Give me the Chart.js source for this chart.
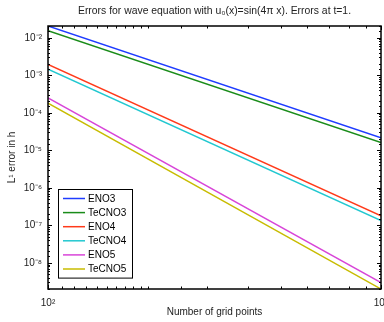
<!DOCTYPE html>
<html>
<head>
    <title>Errors for wave equation</title>
    <script src="https://cdn.jsdelivr.net/npm/chart.js"></script>
    <style>
        html, body {
            margin: 0;
            padding: 0;
            background: #fff;
        }
        .chart-container {
            width: 384px;
            height: 322px;
        }
    </style>
</head>
<body>
    <div class="chart-container">
        <canvas id="errChart"></canvas>
    </div>

    <script>
        // data (straight lines, endpoints only)
        const gridPoints = [100, 1000];
        const labels = ['ENO3', 'TeCNO3', 'ENO4', 'TeCNO4', 'ENO5', 'TeCNO5'];
        const eno3   = [2.06e-2, 2.16e-5];
        const tecno3 = [1.54e-2, 1.62e-5];
        const eno4   = [1.94e-3, 1.78e-7];
        const tecno4 = [1.46e-3, 1.34e-7];
        const eno5   = [2.50e-4, 2.95e-9];
        const tecno5 = [1.80e-4, 2.00e-9];
        const seriesValues = [eno3, tecno3, eno4, tecno4, eno5, tecno5];
        const colors = ['#1f3cff', '#1a8c1a', '#ff3a1a', '#22c8d0', '#d845d8', '#c8bc00'];
        const titleText = 'Errors for wave equation with u₀(x)=sin(4π x). Errors at t=1.';

        const FONT = '"Liberation Sans", Arial, sans-serif';
        const sup = { '0': '⁰', '1': '¹', '2': '²', '3': '³', '4': '⁴', '5': '⁵',
                      '6': '⁶', '7': '⁷', '8': '⁸', '9': '⁹', '-': '⁻' };

        function isDecade(v) {
            const e = Math.log10(v);
            return Math.abs(e - Math.round(e)) < 1e-6;
        }
        function decadeLabel(v) {
            if (!isDecade(v)) return '';
            return '10' + String(Math.round(Math.log10(v))).split('').map(c => sup[c]).join('');
        }

        // title over the plot, frame with inward ticks, legend box
        const framePlugin = {
            id: 'frame',
            afterDraw(chart) {
                const c = chart.ctx;
                const a = chart.chartArea;
                const sx = chart.scales.x, sy = chart.scales.y;
                c.save();

                c.fillStyle = '#222';
                c.font = '10.4px ' + FONT;
                c.textAlign = 'center';
                c.textBaseline = 'middle';
                c.fillText(titleText, (a.left + a.right) / 2, 11);
                c.textAlign = 'left';

                c.strokeStyle = '#000';
                c.lineWidth = 1;
                c.beginPath();
                sx.ticks.forEach(t => {
                    const px = Math.round(sx.getPixelForValue(t.value)) + 0.5;
                    const len = isDecade(t.value) ? 4 : 2.5;
                    c.moveTo(px, a.bottom); c.lineTo(px, a.bottom - len);
                    c.moveTo(px, a.top); c.lineTo(px, a.top + len);
                });
                sy.ticks.forEach(t => {
                    const py = Math.round(sy.getPixelForValue(t.value)) + 0.5;
                    const len = isDecade(t.value) ? 4 : 2;
                    c.moveTo(a.left, py); c.lineTo(a.left + len, py);
                    c.moveTo(a.right, py); c.lineTo(a.right - len, py);
                });
                c.stroke();
                c.lineWidth = 1.5;
                c.strokeRect(a.left, a.top, a.right - a.left, a.bottom - a.top);

                const ds = chart.data.datasets;
                const left = a.left + 10, top = a.top + 163;
                const w = 74, rowH = 14.1;
                const h = rowH * ds.length + 4;
                c.fillStyle = '#fff';
                c.fillRect(left, top, w, h);
                c.strokeStyle = '#000';
                c.lineWidth = 1;
                c.strokeRect(left + 0.5, top + 0.5, w, h);
                c.font = '10px ' + FONT;
                c.textBaseline = 'middle';
                ds.forEach((d, i) => {
                    const y = top + 9.5 + i * rowH;
                    c.strokeStyle = d.borderColor;
                    c.lineWidth = 1.5;
                    c.beginPath();
                    c.moveTo(left + 5, y);
                    c.lineTo(left + 27, y);
                    c.stroke();
                    c.fillStyle = '#000';
                    c.fillText(d.label, left + 30, y + 0.5);
                });
                c.restore();
            }
        };

        const ctx = document.getElementById('errChart').getContext('2d');
        new Chart(ctx, {
            type: 'line',
            data: {
                datasets: labels.map((name, i) => ({
                    label: name,
                    data: gridPoints.map((x, j) => ({ x: x, y: seriesValues[i][j] })),
                    borderColor: colors[i],
                    backgroundColor: colors[i],
                    borderWidth: 1.5,
                    pointRadius: 0,
                    fill: false
                }))
            },
            options: {
                responsive: true,
                maintainAspectRatio: false,
                animation: false,
                layout: { padding: { left: 0, right: 3, top: 26, bottom: 0 } },
                plugins: {
                    legend: { display: false },
                    tooltip: { enabled: false },
                    title: { display: false }
                },
                scales: {
                    x: {
                        type: 'logarithmic',
                        min: 100,
                        max: 1000,
                        grid: { display: false, tickLength: 0 },
                        border: { display: false },
                        ticks: {
                            color: '#222',
                            font: { family: FONT, size: 10 },
                            padding: 8,
                            maxRotation: 0,
                            autoSkip: false,
                            callback: v => decadeLabel(v)
                        },
                        title: {
                            display: true,
                            text: 'Number of grid points',
                            color: '#222',
                            font: { family: FONT, size: 10 },
                            padding: { top: 0, bottom: 4 }
                        },
                        afterFit: s => { s.height = 33; s.paddingLeft = 0; s.paddingRight = 0; }
                    },
                    y: {
                        type: 'logarithmic',
                        min: 2.0e-9,
                        max: 2.06e-2,
                        grid: { display: false, tickLength: 0 },
                        border: { display: false },
                        ticks: {
                            color: '#222',
                            font: { family: FONT, size: 10 },
                            padding: 6,
                            autoSkip: false,
                            callback: v => decadeLabel(v)
                        },
                        title: {
                            display: true,
                            text: 'L¹ error in h',
                            color: '#222',
                            font: { family: FONT, size: 10 },
                            padding: { top: 6, bottom: 0 }
                        },
                        afterFit: s => { s.width = 48; s.paddingTop = 0; s.paddingBottom = 0; }
                    }
                }
            },
            plugins: [framePlugin]
        });
    </script>
</body>
</html>
